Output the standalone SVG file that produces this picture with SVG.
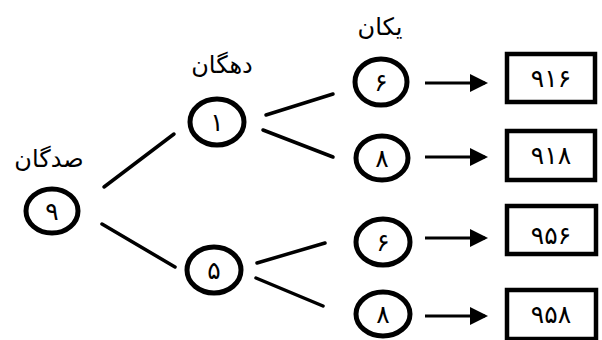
<svg xmlns="http://www.w3.org/2000/svg" width="602" height="340" viewBox="0 0 602 340">
<style>
.n{fill:#fff;stroke:#000;stroke-width:5}
.b{fill:#fff;stroke:#000;stroke-width:4.5}
.d{font-family:"DejaVu Sans",sans-serif;font-size:25px;fill:#000;text-anchor:middle}
.t{font-family:"DejaVu Sans",sans-serif;font-size:25px;fill:#000;text-anchor:middle;letter-spacing:1px}
.l{font-family:"DejaVu Sans",sans-serif;font-size:24px;fill:#000;text-anchor:middle}
.c{stroke:#000;stroke-width:3.5;fill:none;stroke-linecap:round}
.a{stroke:#000;stroke-width:3;fill:none}
</style>
<defs>
<marker id="ah" markerWidth="6" markerHeight="6" refX="5" refY="3" orient="auto" markerUnits="strokeWidth">
<path d="M0,0 L6,3 L0,6 Z" fill="#000"/>
</marker>
</defs>
<rect width="602" height="340" fill="#fff"/>
<g id="labels">
<text class="l" x="49" y="167" direction="rtl">صدگان</text>
<text class="l" x="222" y="73" direction="rtl">دهگان</text>
<text class="l" x="380" y="35" direction="rtl">یکان</text>
</g>
<g id="connectors">
<line class="c" x1="104" y1="187" x2="174" y2="134"/>
<line class="c" x1="102" y1="224" x2="175" y2="267"/>
<line class="c" x1="266" y1="115" x2="333" y2="94"/>
<line class="c" x1="263" y1="130" x2="333" y2="157"/>
<line class="c" x1="257" y1="263" x2="325" y2="243"/>
<line class="c" x1="256" y1="278" x2="323" y2="306"/>
<line class="a" x1="425" y1="83" x2="485" y2="83" marker-end="url(#ah)"/>
<line class="a" x1="425" y1="157" x2="485" y2="157" marker-end="url(#ah)"/>
<line class="a" x1="425" y1="238" x2="485" y2="238" marker-end="url(#ah)"/>
<line class="a" x1="425" y1="316" x2="485" y2="316" marker-end="url(#ah)"/>
</g>
<g id="n9"><ellipse class="n" cx="52" cy="211" rx="26" ry="22"/><text class="d" x="52" y="220">۹</text></g>
<g id="n1"><ellipse class="n" cx="217" cy="122" rx="27" ry="23"/><text class="d" x="217" y="131">۱</text></g>
<g id="n5"><ellipse class="n" cx="214" cy="270" rx="27" ry="23"/><text class="d" x="214" y="279">۵</text></g>
<g id="n6a"><ellipse class="n" cx="381" cy="82" rx="26" ry="23"/><text class="d" x="381" y="91">۶</text></g>
<g id="n8a"><ellipse class="n" cx="382" cy="158" rx="26" ry="22"/><text class="d" x="382" y="167">۸</text></g>
<g id="n6b"><ellipse class="n" cx="383" cy="242" rx="27" ry="23"/><text class="d" x="383" y="251">۶</text></g>
<g id="n8b"><ellipse class="n" cx="383" cy="314" rx="27" ry="22"/><text class="d" x="383" y="323">۸</text></g>
<g id="r916"><rect class="b" x="507" y="54" width="88" height="48"/><text class="t" x="551" y="87">۹۱۶</text></g>
<g id="r918"><rect class="b" x="507" y="131" width="88" height="49"/><text class="t" x="551" y="164">۹۱۸</text></g>
<g id="r956"><rect class="b" x="507" y="206" width="89" height="48"/><text class="t" x="551" y="244">۹۵۶</text></g>
<g id="r958"><rect class="b" x="507" y="290" width="89" height="49"/><text class="t" x="551" y="323">۹۵۸</text></g>
</svg>
